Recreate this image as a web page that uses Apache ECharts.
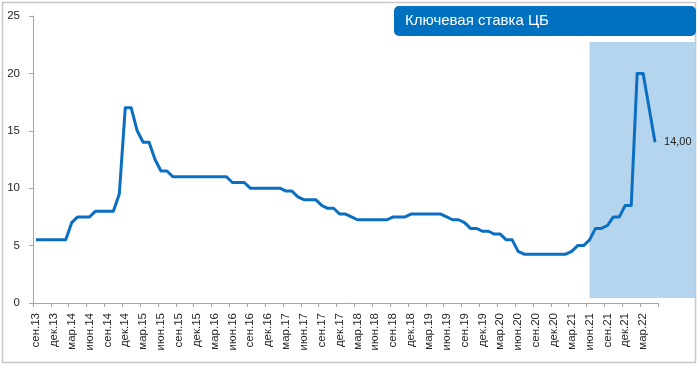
<!DOCTYPE html>
<html>
<head>
<meta charset="utf-8">
<script src="https://cdn.jsdelivr.net/npm/echarts@6/dist/echarts.min.js"></script>
<style>
html,body{margin:0;padding:0;background:#fff;}
#c{width:700px;height:368px;}
</style>
</head>
<body>
<div id="c"></div>
<script>
// Month abbreviations used for category labels
const monthNames = ['янв','фев','мар','апр','май','июн','июл','авг','сен','окт','ноя','дек'];
// Categories: monthly from Sep 2013 to May 2022
const categories = [];
for (let y = 2013; y <= 2022; y++) {
  for (let m = 0; m < 12; m++) {
    if (y === 2013 && m < 8) continue;
    if (y === 2022 && m > 4) break;
    categories.push(monthNames[m] + '.' + String(y).slice(2));
  }
}
// Key rate, end-of-month values (%)
const keyRate = [
  5.5, 5.5, 5.5, 5.5,                                  // сен.13 - дек.13
  5.5, 5.5, 7, 7.5, 7.5, 7.5, 8, 8, 8, 8, 9.5, 17,     // 2014
  17, 15, 14, 14, 12.5, 11.5, 11.5, 11, 11, 11, 11, 11, // 2015
  11, 11, 11, 11, 11, 10.5, 10.5, 10.5, 10, 10, 10, 10, // 2016
  10, 10, 9.75, 9.75, 9.25, 9, 9, 9, 8.5, 8.25, 8.25, 7.75, // 2017
  7.75, 7.5, 7.25, 7.25, 7.25, 7.25, 7.25, 7.25, 7.5, 7.5, 7.5, 7.75, // 2018
  7.75, 7.75, 7.75, 7.75, 7.75, 7.5, 7.25, 7.25, 7, 6.5, 6.5, 6.25, // 2019
  6.25, 6, 6, 5.5, 5.5, 4.5, 4.25, 4.25, 4.25, 4.25, 4.25, 4.25, // 2020
  4.25, 4.25, 4.5, 5, 5, 5.5, 6.5, 6.5, 6.75, 7.5, 7.5, 8.5, // 2021
  8.5, 20, 20, 17, 14                                  // 2022
];
const yTicks = [0, 5, 10, 15, 20, 25];
const titleText = 'Ключевая ставка ЦБ';
const highlightStart = 'июн.21';

const chart = echarts.init(document.getElementById('c'), null, {renderer: 'canvas'});
const font = 'Liberation Sans, Arial, sans-serif';
const axisGray = '#a6a6a6';
const lineBlue = '#0a6fc2';

chart.setOption({
  animation: false,
  grid: {left: 33, right: 42, top: 16, bottom: 65, containLabel: false},
  xAxis: {
    type: 'category',
    data: categories,
    boundaryGap: true,
    axisLine: {lineStyle: {color: axisGray, width: 1}},
    axisTick: {show: true, interval: 2, length: 4, lineStyle: {color: axisGray}},
    axisLabel: {
      interval: 2, rotate: 90, margin: 10,
      fontFamily: font, fontSize: 11.5, color: '#262626'
    },
    splitLine: {show: false}
  },
  yAxis: {
    type: 'value',
    min: yTicks[0], max: yTicks[yTicks.length - 1], interval: 5,
    axisLine: {show: true, lineStyle: {color: axisGray, width: 1}},
    axisTick: {show: true, length: 4, lineStyle: {color: axisGray}},
    axisLabel: {margin: 13, fontFamily: font, fontSize: 11.5, color: '#262626'},
    splitLine: {show: false}
  },
  series: [{
    type: 'line',
    data: keyRate,
    showSymbol: false,
    symbol: 'none',
    lineStyle: {color: lineBlue, width: 3, join: 'round'},
    endLabel: {
      show: true, distance: 9,
      formatter: p => p.value.toFixed(2).replace('.', ','),
      fontFamily: font, fontSize: 11, color: '#262626'
    },
    z: 3
  }]
});

const x0 = chart.convertToPixel({xAxisIndex: 0}, highlightStart);
chart.setOption({
  graphic: [
    {type: 'rect', z: -1, silent: true,
     shape: {x: 2.5, y: 2.5, width: 693, height: 360},
     style: {fill: 'none', stroke: '#c8c8c8', lineWidth: 1.5}},
    {type: 'rect', z: 0, silent: true,
     shape: {x: x0, y: 42, width: 695 - x0, height: 256},
     style: {fill: '#b4d5ed'}},
    {type: 'rect', z: 5, silent: true,
     shape: {x: 394, y: 6, width: 302, height: 30, r: 5},
     style: {fill: '#0070c0'}},
    {type: 'text', z: 6, silent: true,
     x: 405, y: 21,
     style: {text: titleText, fill: '#ffffff', font: '15px ' + font, verticalAlign: 'middle'}}
  ]
});
</script>
</body>
</html>
